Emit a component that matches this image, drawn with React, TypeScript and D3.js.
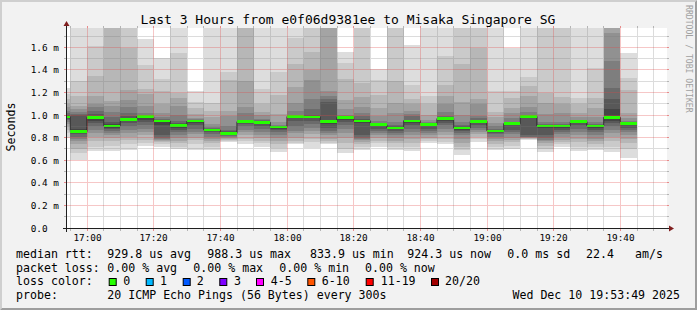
import React, { useEffect } from "react";
import * as d3 from "d3";

// ---------- data ----------
const binStarts = ["16:50","16:55","17:00","17:05","17:10","17:15","17:20","17:25","17:30","17:35","17:40","17:45","17:50","17:55","18:00","18:05","18:10","18:15","18:20","18:25","18:30","18:35","18:40","18:45","18:50","18:55","19:00","19:05","19:10","19:15","19:20","19:25","19:30","19:35","19:40"];

// median rtt per 5-minute step (ms)
const medians = [0.985,0.853,0.98,0.906,0.962,0.988,0.947,0.909,0.947,0.868,0.838,0.942,0.936,0.892,0.988,0.985,0.942,0.98,0.95,0.915,0.886,0.95,0.915,0.97,0.886,0.945,0.859,0.924,0.988,0.904,0.904,0.942,0.904,0.98,0.924];

// 20 sorted ping rtts per step (ms)
const pings = [
  [0.80,0.84,0.87,0.90,0.92,0.94,0.955,0.965,0.975,0.982,0.988,0.995,1.005,1.02,1.04,1.07,1.10,1.14,1.19,1.24],
  [0.60,0.66,0.70,0.74,0.77,0.79,0.81,0.83,0.84,0.85,0.857,0.88,1.00,1.01,1.03,1.05,1.08,1.17,1.30,2.10],
  [0.68,0.72,0.77,0.81,0.84,0.87,0.90,0.93,0.95,0.977,0.983,0.99,1.01,1.04,1.07,1.10,1.17,1.35,1.615,2.10],
  [0.68,0.73,0.77,0.80,0.82,0.84,0.86,0.875,0.89,0.903,0.909,0.92,0.94,0.98,1.03,1.08,1.126,1.90,2.10,2.30],
  [0.69,0.74,0.78,0.81,0.84,0.87,0.90,0.93,0.95,0.959,0.965,0.975,0.99,1.02,1.07,1.136,1.22,1.59,1.90,2.10],
  [0.73,0.75,0.78,0.82,0.85,0.88,0.91,0.935,0.96,0.985,0.991,0.994,0.997,1.00,1.02,1.08,1.19,1.23,1.44,1.67],
  [0.72,0.745,0.76,0.77,0.78,0.79,0.80,0.82,0.91,0.944,0.95,0.953,0.957,0.965,0.98,1.02,1.10,1.215,1.32,1.51],
  [0.70,0.72,0.75,0.77,0.80,0.82,0.85,0.87,0.89,0.906,0.912,0.92,0.93,0.95,1.00,1.08,1.15,1.20,1.55,2.00],
  [0.69,0.74,0.78,0.80,0.83,0.85,0.88,0.91,0.93,0.944,0.95,0.952,0.955,0.958,0.962,0.97,1.01,1.06,1.12,1.21],
  [0.69,0.72,0.75,0.77,0.79,0.81,0.83,0.85,0.86,0.865,0.871,0.874,0.877,0.882,0.895,0.92,0.98,1.04,1.11,2.00],
  [0.76,0.77,0.78,0.79,0.80,0.81,0.815,0.82,0.83,0.835,0.841,0.85,0.86,0.87,0.90,0.99,1.04,1.31,1.38,2.00],
  [0.745,0.77,0.79,0.82,0.85,0.87,0.90,0.92,0.935,0.94,0.945,0.948,0.952,0.96,1.02,1.07,1.30,1.90,2.10,2.30],
  [0.72,0.75,0.77,0.80,0.82,0.85,0.88,0.90,0.92,0.934,0.939,0.943,0.948,0.953,0.965,1.00,1.03,1.10,1.23,2.00],
  [0.67,0.71,0.74,0.77,0.80,0.82,0.85,0.87,0.88,0.889,0.895,0.898,0.90,0.905,0.915,0.94,1.01,1.18,1.38,2.00],
  [0.74,0.755,0.77,0.80,0.84,0.86,0.90,0.95,0.97,0.985,0.991,0.993,0.996,1.00,1.04,1.11,1.25,1.45,1.68,2.00],
  [0.71,0.76,0.79,0.83,0.86,0.89,0.92,0.95,0.97,0.982,0.988,0.992,1.00,1.05,1.14,1.31,1.40,1.56,1.90,2.10],
  [0.74,0.75,0.77,0.79,0.82,0.84,0.86,0.89,0.92,0.939,0.945,0.96,1.12,1.14,1.17,1.21,1.85,1.95,2.05,2.20],
  [0.665,0.70,0.75,0.80,0.84,0.88,0.91,0.94,0.96,0.977,0.983,0.985,0.988,0.992,1.00,1.05,1.13,1.32,1.46,1.56],
  [0.69,0.72,0.745,0.76,0.78,0.79,0.80,0.82,0.93,0.947,0.953,0.957,0.965,0.99,1.02,1.07,1.16,1.28,1.90,2.10],
  [0.72,0.75,0.77,0.80,0.82,0.84,0.86,0.88,0.90,0.912,0.918,0.921,0.925,0.93,0.95,0.99,1.06,1.18,1.31,1.41],
  [0.69,0.72,0.75,0.77,0.80,0.82,0.84,0.86,0.875,0.883,0.889,0.895,0.90,0.91,0.94,1.02,1.11,1.30,1.90,2.10],
  [0.68,0.72,0.75,0.79,0.82,0.85,0.88,0.91,0.93,0.947,0.953,0.956,0.96,0.99,1.01,1.04,1.10,1.14,1.27,1.62],
  [0.755,0.77,0.79,0.80,0.82,0.84,0.86,0.88,0.90,0.912,0.918,0.921,0.925,0.93,0.94,0.96,1.00,1.10,1.17,2.00],
  [0.74,0.76,0.79,0.82,0.85,0.88,0.91,0.93,0.95,0.967,0.973,0.976,0.98,0.99,1.03,1.10,1.17,1.27,1.52,2.00],
  [0.65,0.69,0.72,0.75,0.79,0.82,0.84,0.86,0.87,0.883,0.889,0.893,0.90,0.91,0.94,1.00,1.12,1.45,1.90,2.10],
  [0.76,0.79,0.81,0.83,0.85,0.87,0.89,0.91,0.93,0.942,0.948,0.952,0.96,0.97,0.99,1.10,1.14,1.59,1.90,2.10],
  [0.69,0.72,0.74,0.77,0.79,0.81,0.83,0.84,0.85,0.856,0.862,0.865,0.87,0.88,0.90,0.93,0.98,1.03,1.21,2.00],
  [0.70,0.73,0.76,0.78,0.80,0.83,0.85,0.87,0.91,0.921,0.927,0.93,0.935,0.94,0.97,1.02,1.06,1.15,1.21,1.59],
  [0.775,0.785,0.79,0.795,0.80,0.805,0.81,0.82,0.97,0.985,0.991,0.993,0.996,1.00,1.03,1.07,1.17,1.26,1.34,2.00],
  [0.67,0.70,0.73,0.75,0.77,0.78,0.80,0.82,0.89,0.901,0.907,0.91,0.913,0.918,0.94,1.01,1.11,1.20,1.90,2.10],
  [0.72,0.74,0.76,0.78,0.81,0.83,0.85,0.87,0.89,0.901,0.907,0.91,0.913,0.92,0.94,1.02,1.10,1.16,1.90,2.10],
  [0.68,0.72,0.76,0.79,0.82,0.85,0.88,0.91,0.93,0.939,0.945,0.947,0.95,0.955,0.96,0.98,1.02,1.10,1.15,2.00],
  [0.69,0.72,0.74,0.77,0.79,0.82,0.85,0.87,0.89,0.901,0.907,0.91,0.913,0.92,0.94,0.98,1.06,1.15,1.42,2.00],
  [0.67,0.72,0.77,0.81,0.84,0.87,0.90,0.93,0.95,0.975,0.99,1.05,1.14,1.24,1.48,1.73,1.90,2.00,2.10,2.20],
  [0.62,0.70,0.75,0.79,0.82,0.85,0.87,0.89,0.91,0.921,0.927,0.93,0.933,0.937,0.95,0.97,1.02,1.22,1.33,1.55],
];

const xTickLabels = ["17:00","17:20","17:40","18:00","18:20","18:40","19:00","19:20","19:40"];
const yTickValues = [0, 0.2, 0.4, 0.6, 0.8, 1.0, 1.2, 1.4, 1.6];
const yTickLabels = ["0.0", "0.2 m", "0.4 m", "0.6 m", "0.8 m", "1.0 m", "1.2 m", "1.4 m", "1.6 m"];

const lossLabels = ["0", "1", "2", "3", "4-5", "6-10", "11-19", "20/20"];
const lossColors = ["#26ff00", "#00b8ff", "#0059ff", "#7e00ff", "#ff00ff", "#ff5500", "#ff0000", "#a10000"];
const lossSwatchX = [108.7, 145.7, 182.7, 219.3, 256, 307.3, 365.7, 431];
const lossLabelX = [123.3, 160, 196.7, 234, 270.7, 321.7, 380.7, 445];

const titleText = "Last 3 Hours from e0f06d9381ee to Misaka Singapore SG";
const legendRows: [number, string][][] = [
  [[16, "median rtt:"], [107.3, "929.8 us avg"], [207.3, "988.3 us max"], [310, "833.9 us min"], [407.3, "924.3 us now"], [507.3, "0.0 ms sd"], [586, "22.4"], [635, "am/s"]],
  [[16, "packet loss:"], [107.3, "0.00 % avg"], [193.3, "0.00 % max"], [279.3, "0.00 % min"], [365, "0.00 % now"]],
  [[16, "loss color:"]],
  [[16, "probe:"], [107.3, "20 ICMP Echo Pings (56 Bytes) every 300s"]],
];
const stampText = "Wed Dec 10 19:53:49 2025";

// ---------- layout ----------
const W = 697, H = 310;
const X0 = 67, X1 = 667, YB = 228, YT = 28;
const Y_MAX = 1.7714;
const STEP = 5;
const MONO = "'DejaVu Sans Mono', 'Liberation Mono', monospace";

const toMin = (s: string) => {
  const [h, m] = s.split(":").map(Number);
  return h * 60 + m;
};

export default function App() {
  useEffect(() => {
    document.body.style.margin = "0";
  }, []);

  const x = d3.scaleLinear().domain([toMin("16:54"), toMin("19:54")]).range([X0, X1]);
  const y = d3.scaleLinear().domain([0, Y_MAX]).range([YB, YT]);
  const cy = (v: number) => y(Math.min(v, Y_MAX));
  const px = (p: number) => Math.floor(p);

  const bins = binStarts.map((s, i) => {
    const t0 = toMin(s);
    const xa = Math.max(x(t0), X0);
    const xb = Math.min(x(t0 + STEP), X1);
    return { t0, xa, xb, p: pings[i], med: medians[i] };
  });

  const shade = (k: number) => {
    const c = Math.floor((190 / 10) * (10 - (k + 1))) + 50;
    return d3.rgb(c, c, c).formatHex();
  };

  const [dMin, dMax] = x.domain();
  const firstGrid = Math.ceil(dMin / STEP) * STEP;
  const gridMins = d3.range(firstGrid, dMax, STEP);
  const vMinor = gridMins.filter((m) => m % 20 !== 0);
  const vMajor = gridMins.filter((m) => m % 20 === 0);
  const hMinor = d3.range(1, 18, 2).map((k) => k / 10);
  const hMajor = d3.range(2, 17, 2).map((k) => k / 10);

  // dotted rrdtool grid, rendered as its average tone
  const minorLine = "rgba(120,120,120,0.26)";
  const majorLine = "rgba(225,70,70,0.3)";
  const minorTick = "rgba(120,120,120,0.5)";
  const majorTick = "rgba(225,70,70,0.6)";

  let minorD = "";
  let minorT = "";
  vMinor.forEach((m) => {
    const c = px(x(m));
    minorD += `M${c},${YT}h1v${YB - YT}h-1z`;
    minorT += `M${c},${YB + 1}h1v2h-1z M${c},${YT - 2}h1v2h-1z`;
  });
  hMinor.forEach((v) => {
    const r = px(y(v));
    minorD += `M${X0},${r}h${X1 - X0}v1h-${X1 - X0}z`;
    minorT += `M${X0 - 3},${r}h2v1h-2z M${X1},${r}h2v1h-2z`;
  });
  let majorD = "";
  let majorT = "";
  vMajor.forEach((m) => {
    const c = px(x(m));
    majorD += `M${c},${YT}h1v${YB - YT}h-1z`;
    majorT += `M${c},${YB + 1}h1v2h-1z M${c},${YT - 2}h1v2h-1z`;
  });
  hMajor.forEach((v) => {
    const r = px(y(v));
    majorD += `M${X0},${r}h${X1 - X0}v1h-${X1 - X0}z`;
    majorT += `M${X0 - 3},${r}h2v1h-2z M${X1},${r}h2v1h-2z`;
  });

  const medLine = d3
    .line<[number, number]>()
    .x((d) => d[0])
    .y((d) => d[1])
    .curve(d3.curveStepAfter);
  const medPts: [number, number][] = bins.map((b) => [b.xa, y(b.med)]);
  medPts.push([bins[bins.length - 1].xb, y(bins[bins.length - 1].med)]);

  return (
    <svg
      width={W}
      height={H}
      viewBox={`0 0 ${W} ${H}`}
      style={{ position: "absolute", left: 0, top: 0, display: "block" }}
    >
      <defs>
        <clipPath id="plotClip">
          <rect x={X0} y={YT} width={X1 - X0} height={YB - YT} />
        </clipPath>
      </defs>
      {/* background and bevel */}
      <rect x={0} y={0} width={W} height={H} fill="#f2f2f2" />
      <polygon points={`0,${H} 2,${H - 2} 2,2 ${W - 2},2 ${W},0 0,0`} fill="#cfcfcf" />
      <polygon points={`2,${H - 2} ${W - 2},${H - 2} ${W - 2},2 ${W},0 ${W},${H} 0,${H}`} fill="#9e9e9e" />

      {/* canvas */}
      <rect x={X0} y={YT} width={X1 - X0} height={YB - YT} fill="#ffffff" />

      {/* smoke */}
      <g clipPath="url(#plotClip)" shapeRendering="crispEdges">
        {bins.map((b, i) =>
          d3.range(10).map((k) => {
            const lo = b.p[k];
            const hi = b.p[19 - k];
            const yt = cy(hi);
            const yb = cy(lo);
            return (
              <rect
                key={`s${i}-${k}`}
                x={b.xa}
                y={yt}
                width={b.xb - b.xa}
                height={Math.max(0, yb - yt)}
                fill={shade(k)}
              />
            );
          })
        )}
      </g>

      {/* median */}
      <g clipPath="url(#plotClip)">
        <path d={medLine(medPts) || ""} fill="none" stroke="#202020" strokeWidth={1} />
        {bins.map((b, i) => (
          <rect
            key={`m${i}`}
            x={b.xa}
            y={y(b.med) - 1.2}
            width={b.xb - b.xa}
            height={2.4}
            fill={lossColors[0]}
            shapeRendering="crispEdges"
          />
        ))}
      </g>

      {/* grid */}
      <g shapeRendering="crispEdges">
        <path d={minorD} fill={minorLine} />
        <path d={minorT} fill={minorTick} />
        <path d={majorD} fill={majorLine} />
        <path d={majorT} fill={majorTick} />
      </g>

      {/* axes */}
      <g shapeRendering="crispEdges">
        <rect x={X0 - 4} y={YB} width={X1 - X0 + 8} height={1} fill="#1f1f1f" />
        <rect x={X0 - 1} y={YT - 4} width={1} height={YB - YT + 8} fill="#1f1f1f" />
      </g>
      <polygon points={`${X1 + 2},${YB - 2.5} ${X1 + 2},${YB + 3.5} ${X1 + 7},${YB + 0.5}`} fill="#801f1f" />
      <polygon points={`${X0 - 3.5},${YT - 2} ${X0 + 2.5},${YT - 2} ${X0 - 0.5},${YT - 7}`} fill="#801f1f" />

      {/* y labels */}
      {yTickValues.map((v, i) => (
        <text key={`yl${i}`} x={30.7} y={px(y(v)) + 3.8} fontFamily={MONO} fontSize={9.4} fill="#000">
          {yTickLabels[i]}
        </text>
      ))}
      {/* x labels */}
      {xTickLabels.map((l) => (
        <text key={`xl${l}`} x={px(x(toMin(l))) + 0.5} y={240.8} fontFamily={MONO} fontSize={9.4} textAnchor="middle" fill="#000">
          {l}
        </text>
      ))}

      {/* title */}
      <text x={348} y={23.5} fontFamily={MONO} fontSize={13} textAnchor="middle" fill="#000">
        {titleText}
      </text>

      {/* vertical labels */}
      <text transform="translate(15,127) rotate(-90)" fontFamily={MONO} fontSize={11.6} textAnchor="middle" fill="#000">
        Seconds
      </text>
      <text transform="translate(685.5,5) rotate(90)" fontFamily={MONO} fontSize={8.15} fill="#a0a0a0">
        RRDTOOL / TOBI OETIKER
      </text>

      {/* legend */}
      {legendRows.map((row, r) =>
        row.map(([lx, t], j) => (
          <text key={`lg${r}-${j}`} x={lx} y={258 + r * 13.7} fontFamily={MONO} fontSize={11.6} fill="#000" style={{ whiteSpace: "pre" }}>
            {t}
          </text>
        ))
      )}
      {lossLabels.map((l, i) => (
        <g key={`lc${i}`}>
          <rect x={lossSwatchX[i] + 0.5} y={278.5} width={7} height={7} fill={lossColors[i]} stroke="#000" strokeWidth={1} />
          <text x={lossLabelX[i]} y={258 + 2 * 13.7} fontFamily={MONO} fontSize={11.6} fill="#000">
            {l}
          </text>
        </g>
      ))}
      <text x={680} y={258 + 3 * 13.7} fontFamily={MONO} fontSize={11.6} textAnchor="end" fill="#000">
        {stampText}
      </text>
    </svg>
  );
}
